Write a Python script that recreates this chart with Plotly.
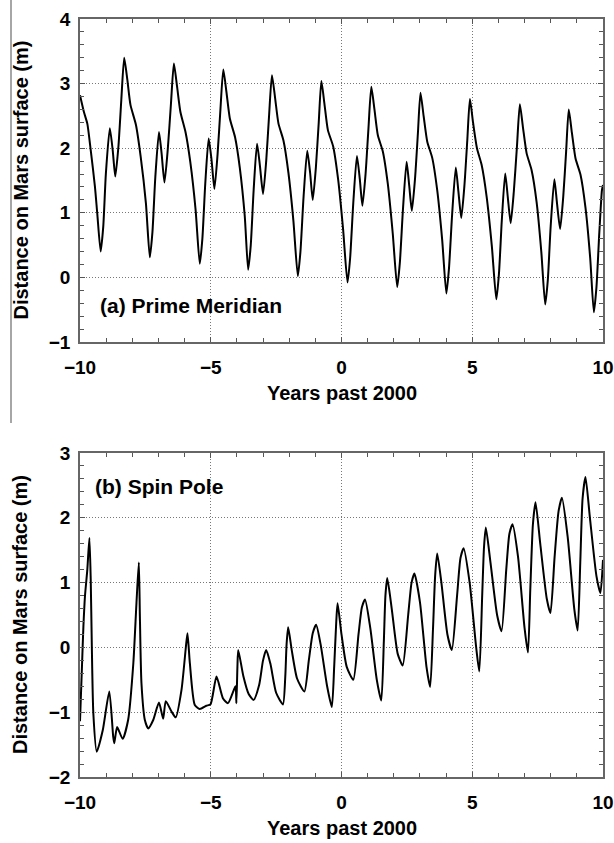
import plotly.graph_objects as go

# (a) Prime Meridian: displacement on the Mars surface (m) vs. years past 2000
pm_years = [
    -10.00, -9.85, -9.72, -9.59, -9.43, -9.34, -9.21, -9.11, -9.01, -8.86, -8.75, -8.65, -8.53, -8.42,
    -8.31, -8.19, -8.07, -7.86, -7.68, -7.48, -7.33, -7.23, -7.12, -6.98, -6.88, -6.77, -6.64, -6.52,
    -6.41, -6.29, -6.16, -5.96, -5.78, -5.58, -5.42, -5.32, -5.21, -5.08, -4.97, -4.86, -4.74, -4.63,
    -4.52, -4.40, -4.27, -4.07, -3.89, -3.70, -3.57, -3.47, -3.36, -3.23, -3.12, -3.00, -2.88, -2.77,
    -2.66, -2.54, -2.41, -2.22, -2.03, -1.84, -1.67, -1.57, -1.45, -1.31, -1.20, -1.10, -0.98, -0.87,
    -0.77, -0.65, -0.52, -0.32, -0.13, 0.06, 0.23, 0.33, 0.45, 0.59, 0.70, 0.80, 0.92, 1.03,
    1.14, 1.26, 1.39, 1.58, 1.77, 1.96, 2.13, 2.23, 2.35, 2.49, 2.59, 2.69, 2.81, 2.92,
    3.02, 3.14, 3.28, 3.47, 3.66, 3.85, 4.01, 4.11, 4.23, 4.37, 4.47, 4.58, 4.70, 4.81,
    4.91, 5.03, 5.18, 5.36, 5.55, 5.75, 5.92, 6.02, 6.13, 6.26, 6.36, 6.47, 6.59, 6.71,
    6.82, 6.94, 7.08, 7.27, 7.46, 7.64, 7.79, 7.89, 8.00, 8.14, 8.24, 8.36, 8.48, 8.59,
    8.69, 8.81, 8.95, 9.14, 9.33, 9.51, 9.65, 9.75, 9.86, 9.96, 10.00,
]
pm_dist = [
    2.82, 2.56, 2.38, 1.97, 1.41, 0.99, 0.40, 0.79, 1.61, 2.31, 1.97, 1.56, 2.03, 2.75,
    3.40, 3.06, 2.67, 2.36, 1.87, 1.15, 0.31, 0.70, 1.55, 2.25, 1.92, 1.47, 2.00, 2.70,
    3.31, 2.96, 2.56, 2.24, 1.78, 1.05, 0.21, 0.60, 1.45, 2.15, 1.82, 1.37, 1.90, 2.60,
    3.22, 2.87, 2.46, 2.17, 1.70, 0.95, 0.12, 0.50, 1.35, 2.07, 1.73, 1.29, 1.80, 2.50,
    3.13, 2.78, 2.38, 2.12, 1.62, 0.88, 0.02, 0.40, 1.25, 1.96, 1.62, 1.20, 1.70, 2.40,
    3.04, 2.68, 2.28, 2.03, 1.52, 0.75, -0.08, 0.30, 1.15, 1.88, 1.52, 1.11, 1.60, 2.30,
    2.95, 2.60, 2.20, 1.95, 1.45, 0.68, -0.15, 0.22, 1.05, 1.79, 1.42, 1.03, 1.52, 2.22,
    2.86, 2.50, 2.10, 1.85, 1.35, 0.58, -0.25, 0.14, 0.97, 1.70, 1.33, 0.92, 1.42, 2.12,
    2.76, 2.40, 2.00, 1.74, 1.25, 0.48, -0.34, 0.05, 0.88, 1.61, 1.24, 0.84, 1.33, 2.03,
    2.68, 2.32, 1.92, 1.66, 1.17, 0.40, -0.42, -0.04, 0.80, 1.52, 1.15, 0.75, 1.25, 1.95,
    2.60, 2.24, 1.84, 1.59, 1.08, 0.30, -0.54, -0.15, 0.70, 1.35, 1.43,
]

# (b) Spin Pole: displacement on the Mars surface (m) vs. years past 2000
sp_years = [
    -10.00, -9.92, -9.87, -9.81, -9.72, -9.64, -9.59, -9.55, -9.49, -9.36, -9.13, -8.88, -8.73, -8.69,
    -8.58, -8.37, -8.16, -7.96, -7.84, -7.75, -7.71, -7.65, -7.52, -7.39, -7.20, -6.98, -6.82, -6.72,
    -6.50, -6.34, -6.12, -5.95, -5.89, -5.80, -5.61, -5.42, -5.17, -5.01, -4.78, -4.53, -4.34, -4.12,
    -4.05, -4.02, -3.98, -3.95, -3.75, -3.55, -3.36, -3.15, -3.00, -2.88, -2.72, -2.50, -2.24, -2.15,
    -2.10, -2.04, -1.90, -1.70, -1.42, -1.25, -1.10, -0.97, -0.80, -0.55, -0.37, -0.28, -0.20, -0.15,
    0.00, 0.20, 0.45, 0.65, 0.78, 0.90, 1.10, 1.35, 1.52, 1.62, 1.68, 1.75, 1.92, 2.15,
    2.34, 2.55, 2.68, 2.79, 3.00, 3.25, 3.39, 3.50, 3.58, 3.66, 3.82, 4.05, 4.22, 4.42,
    4.55, 4.67, 4.90, 5.15, 5.27, 5.38, 5.45, 5.52, 5.70, 5.95, 6.12, 6.30, 6.42, 6.54,
    6.75, 7.00, 7.13, 7.22, 7.32, 7.42, 7.60, 7.85, 7.99, 8.15, 8.30, 8.43, 8.65, 8.90,
    9.03, 9.13, 9.22, 9.33, 9.50, 9.75, 9.90, 10.00,
]
sp_dist = [
    -1.14, -0.24, 0.32, 0.79, 1.20, 1.69, 1.05, 0.07, -1.02, -1.61, -1.28, -0.68, -1.38, -1.48,
    -1.23, -1.41, -1.12, -0.24, 0.69, 1.31, 0.48, -0.55, -1.12, -1.25, -1.12, -0.85, -1.10, -0.83,
    -0.99, -1.08, -0.66, 0.01, 0.22, -0.24, -0.89, -0.95, -0.90, -0.88, -0.45, -0.79, -0.86, -0.66,
    -0.60, -0.86, -0.30, -0.04, -0.45, -0.72, -0.81, -0.58, -0.20, -0.04, -0.25, -0.70, -0.88, -0.45,
    0.05, 0.31, -0.05, -0.48, -0.68, -0.20, 0.22, 0.35, 0.05, -0.60, -0.92, -0.30, 0.40, 0.68,
    0.20, -0.30, -0.50, 0.20, 0.62, 0.74, 0.30, -0.50, -0.82, 0.10, 0.80, 1.07, 0.60, -0.10,
    -0.28, 0.50, 1.00, 1.14, 0.70, -0.30, -0.61, 0.30, 1.10, 1.45, 1.00, 0.20, -0.04, 0.80,
    1.38, 1.53, 1.00, 0.00, -0.37, 0.80, 1.55, 1.85, 1.30, 0.50, 0.25, 1.20, 1.75, 1.90,
    1.40, 0.30, -0.08, 0.90, 1.90, 2.24, 1.60, 0.75, 0.53, 1.40, 2.10, 2.31, 1.70, 0.60,
    0.26, 1.30, 2.30, 2.63, 2.00, 1.10, 0.84, 1.35,
]

X_MAJOR = 5      # years between labelled x ticks
X_MINOR = 1
Y_MAJOR = 1      # metres between labelled y ticks
Y_MINOR = 0.2

FONT = "Liberation Sans, Arial, sans-serif"
W, H = 614, 843


def px_x(p):
    return p / W


def px_y(p):
    return 1 - p / H


fig = go.Figure()
line = dict(color="black", width=2, shape="spline", smoothing=0.6)
fig.add_trace(go.Scatter(x=pm_years, y=pm_dist, mode="lines", line=line,
                         xaxis="x", yaxis="y", showlegend=False, hoverinfo="skip"))
fig.add_trace(go.Scatter(x=sp_years, y=sp_dist, mode="lines", line=line,
                         xaxis="x2", yaxis="y2", showlegend=False, hoverinfo="skip"))

tick_font = dict(family=FONT, size=19, color="black", weight="bold")
title_font = dict(family=FONT, size=20, color="black", weight="bold")
label_font = dict(family=FONT, size=21, color="black", weight="bold")

common = dict(
    ticks="inside", ticklen=5, tickcolor="#555", tickwidth=1,
    showline=True, linecolor="#666", linewidth=1.5, mirror="ticks",
    showgrid=True, gridcolor="#777", griddash="1px,2px", gridwidth=1,
    zeroline=False, automargin=False, ticklabeloverflow="allow",
    tickfont=tick_font,
)


def xaxis(domain, anchor):
    return dict(
        domain=domain, anchor=anchor, range=[-10, 10],
        tickmode="linear", tick0=0, dtick=X_MAJOR,
        minor=dict(tickmode="linear", tick0=0, dtick=X_MINOR, ticks="inside", ticklen=4,
                   tickcolor="#555", showgrid=False),
        ticklabelstandoff=7, **common,
    )


def yaxis(domain, anchor, rng):
    return dict(
        domain=domain, anchor=anchor, range=rng,
        tickmode="linear", tick0=0, dtick=Y_MAJOR,
        minor=dict(tickmode="linear", tick0=0, dtick=Y_MINOR, ticks="inside", ticklen=4,
                   tickcolor="#555", showgrid=False),
        ticklabelstandoff=4, **common,
    )


top = (19, 342)
bot = (453, 777)
LEFT, RIGHT = 80, 603

annotations = [
    dict(text="(a) Prime Meridian", x=-9.33, y=-0.43, xref="x", yref="y",
         xanchor="left", yanchor="middle", showarrow=False, font=label_font),
    dict(text="(b) Spin Pole", x=-9.5, y=2.48, xref="x2", yref="y2",
         xanchor="left", yanchor="middle", showarrow=False, font=label_font),
]
# axis titles for both panels, placed a fixed distance from each frame
for t, b in (top, bot):
    annotations.append(dict(text="Years past 2000", x=px_x((LEFT + RIGHT) / 2), y=px_y(b + 51),
                            xref="paper", yref="paper", xanchor="center", yanchor="middle",
                            showarrow=False, font=title_font))
    annotations.append(dict(text="Distance on Mars surface (m)", x=px_x(20), y=px_y((t + b) / 2),
                            xref="paper", yref="paper", xanchor="center", yanchor="middle",
                            textangle=-90, showarrow=False, font=title_font))

fig.update_layout(
    width=W, height=H,
    margin=dict(l=0, r=0, t=0, b=0),
    paper_bgcolor="white", plot_bgcolor="white",
    xaxis=xaxis([px_x(LEFT), px_x(RIGHT)], "y"),
    yaxis=yaxis([px_y(top[1]), px_y(top[0])], "x", [-1, 4]),
    xaxis2=xaxis([px_x(LEFT), px_x(RIGHT)], "y2"),
    yaxis2=yaxis([px_y(bot[1]), px_y(bot[0])], "x2", [-2, 3]),
    annotations=annotations,
    shapes=[
        dict(type="line", xref="paper", yref="paper", x0=px_x(11), x1=px_x(11),
             y0=1, y1=px_y(423), line=dict(color="#888", width=1.5)),
    ],
)

fig.write_html("out.html")
